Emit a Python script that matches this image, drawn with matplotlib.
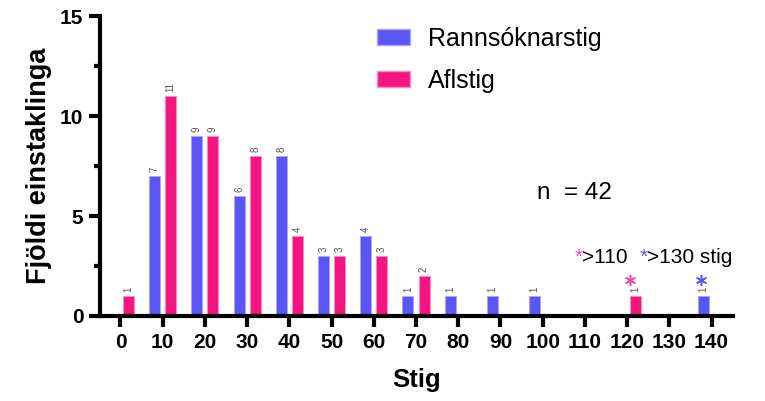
import matplotlib
matplotlib.use("Agg")
import matplotlib.pyplot as plt
from matplotlib.ticker import MultipleLocator
from matplotlib.patches import Patch

plt.rcParams['font.family'] = ['Liberation Sans', 'DejaVu Sans']

bins = [0, 10, 20, 30, 40, 50, 60, 70, 80, 90, 100, 110, 120, 130, 140]
rannsokn = [0, 7, 9, 6, 8, 3, 4, 1, 1, 1, 1, 0, 0, 0, 1]
afl = [1, 11, 9, 8, 4, 3, 3, 2, 0, 0, 0, 0, 1, 0, 0]
series_names = ["Rannsóknarstig", "Aflstig"]
blue = "#5A55F7"
pink = "#F51480"
star_pink = "#F04AB0"

fig = plt.figure(figsize=(7.65, 4.01), dpi=100)
ax = fig.add_axes([0.1307, 0.212, 0.827, 0.748])

w = 2.6
off = 1.9
for x, v in zip(bins, rannsokn):
    if v > 0:
        ax.bar(x - off, v, width=w, color=blue, edgecolor="#A9A6FA", linewidth=0.6)
        ax.text(x - off, v + 0.2, str(v), rotation=90, ha="center", va="bottom",
                fontsize=7, color="#555555")
for x, v in zip(bins, afl):
    if v > 0:
        ax.bar(x + off, v, width=w, color=pink, edgecolor="#F78FBF", linewidth=0.6)
        ax.text(x + off, v + 0.2, str(v), rotation=90, ha="center", va="bottom",
                fontsize=7, color="#555555")

# asterisk marks above the outlier bars
ax.plot([120 + off - 1.3], [1.8], linestyle="none", marker=(6, 2, 0),
        markersize=8, markeredgewidth=1.1, color=star_pink)
ax.plot([140 - off - 0.5], [1.8], linestyle="none", marker=(6, 2, 0),
        markersize=8, markeredgewidth=1.1, color=blue)

ax.set_xlim(-4.85, 145)
ax.set_ylim(0, 15)
ax.set_xticks(bins)
ax.set_xticklabels([str(b) for b in bins])
ax.yaxis.set_major_locator(MultipleLocator(5))
ax.yaxis.set_minor_locator(MultipleLocator(2.5))

for s in ["top", "right"]:
    ax.spines[s].set_visible(False)
for s in ["left", "bottom"]:
    ax.spines[s].set_linewidth(3)

ax.tick_params(axis="both", which="major", width=3, length=8, labelsize=15, pad=4)
ax.tick_params(axis="y", which="minor", width=3, length=4)
for lab in ax.get_xticklabels() + ax.get_yticklabels():
    lab.set_fontweight("bold")

ax.set_xlabel("Stig", fontsize=18.5, fontweight="bold", labelpad=12)
ax.set_ylabel("Fjöldi einstaklinga", fontsize=19.5, fontweight="bold", labelpad=6)

handles = [Patch(facecolor=blue, edgecolor="#A9A6FA"), Patch(facecolor=pink, edgecolor="#F78FBF")]
ax.legend(handles, series_names, loc="upper left",
          bbox_to_anchor=(377 / 765, 1 - 27 / 401), bbox_transform=fig.transFigure,
          frameon=False, fontsize=18, handlelength=1.3, handleheight=0.6,
          handletextpad=0.72, labelspacing=0.72, borderpad=0, borderaxespad=0)

fig.text(537 / 765, 1 - 199 / 401, "n  = 42", fontsize=17.5, ha="left", va="baseline")
fig.text(575 / 765, 1 - 263 / 401, "*", color=star_pink, fontsize=15, ha="left", va="baseline")
fig.text(582 / 765, 1 - 263 / 401, ">110", fontsize=15, ha="left", va="baseline")
fig.text(640 / 765, 1 - 263 / 401, "*", color=blue, fontsize=15, ha="left", va="baseline")
fig.text(647 / 765, 1 - 263 / 401, ">130 stig", fontsize=15, ha="left", va="baseline")

fig.savefig("out.png", dpi=100)
